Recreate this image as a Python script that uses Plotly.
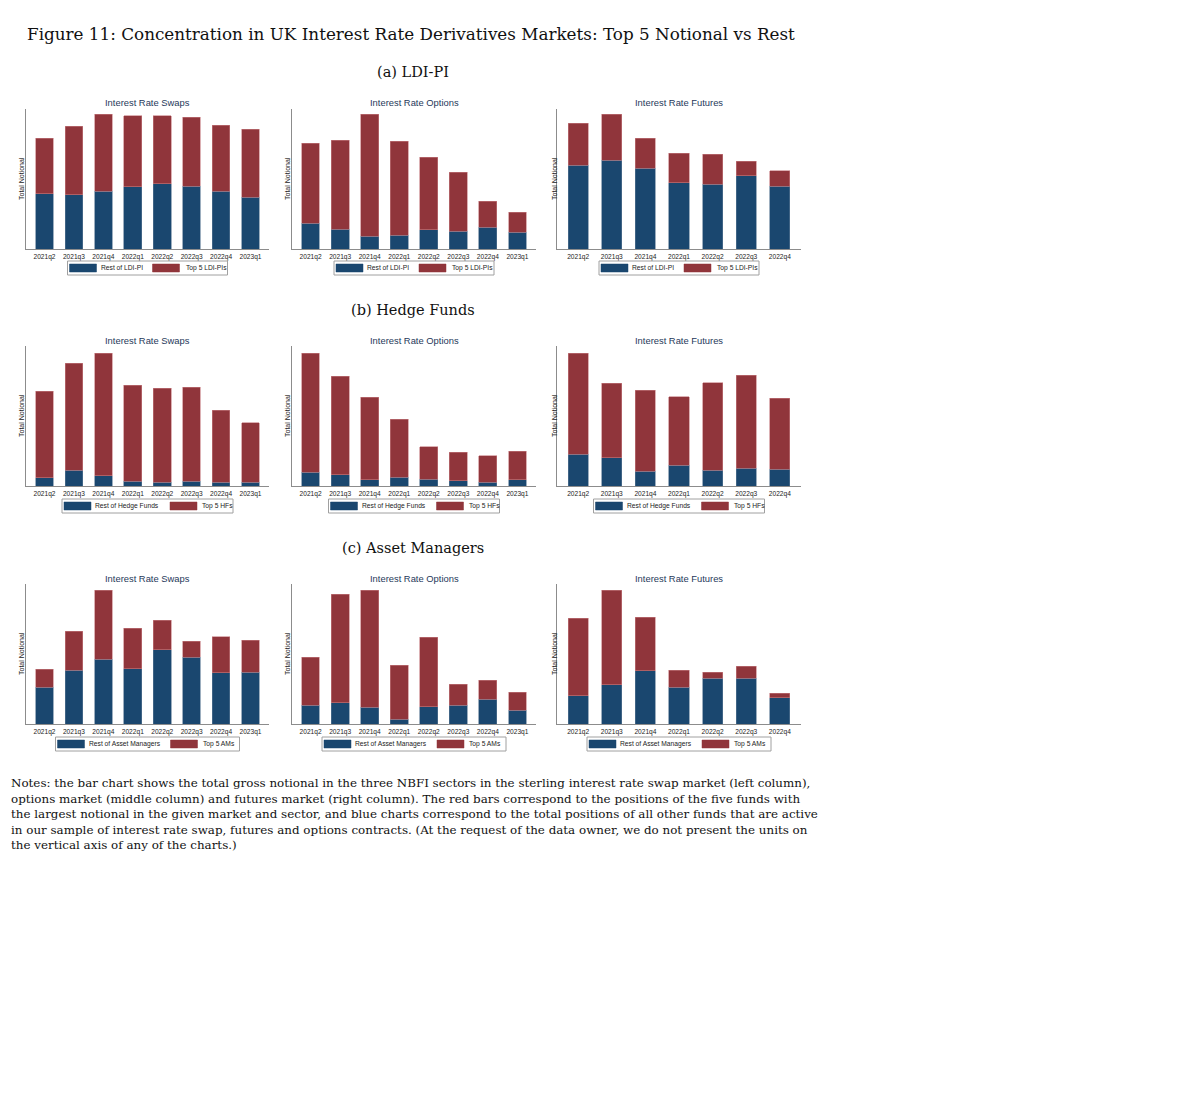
import plotly.graph_objects as go

# ---------------- data (arbitrary units) ----------------
QUARTERS_8 = ["2021q2", "2021q3", "2021q4", "2022q1", "2022q2", "2022q3", "2022q4", "2023q1"]
QUARTERS_7 = ["2021q2", "2021q3", "2021q4", "2022q1", "2022q2", "2022q3", "2022q4"]

ldi_swaps_rest = [166, 163, 174, 187, 196, 188, 173, 156]
ldi_swaps_top5 = [167, 205, 231, 213, 204, 207, 198, 204]
ldi_options_rest = [78, 60, 38, 41, 58, 53, 66, 51]
ldi_options_top5 = [240, 266, 366, 282, 218, 178, 77, 60]
ldi_futures_rest = [251, 266, 243, 199, 195, 220, 189]
ldi_futures_top5 = [127, 138, 90, 89, 90, 44, 46]

hf_swaps_rest = [25, 48, 31, 15, 12, 14, 11, 12]
hf_swaps_top5 = [259, 321, 368, 287, 281, 282, 216, 178]
hf_options_rest = [41, 34, 19, 27, 21, 16, 12, 19]
hf_options_top5 = [358, 295, 248, 174, 97, 85, 79, 85]
hf_futures_rest = [96, 85, 45, 62, 48, 53, 51]
hf_futures_top5 = [303, 224, 242, 206, 262, 279, 212]

am_swaps_rest = [110, 161, 195, 166, 223, 200, 154, 155]
am_swaps_top5 = [55, 118, 207, 122, 88, 49, 108, 97]
am_options_rest = [57, 64, 50, 14, 52, 57, 75, 41]
am_options_top5 = [144, 326, 352, 163, 209, 62, 57, 55]
am_futures_rest = [85, 118, 160, 111, 137, 138, 79]
am_futures_top5 = [233, 284, 160, 50, 18, 35, 13]

market_titles = ["Interest Rate Swaps", "Interest Rate Options", "Interest Rate Futures"]
sector_captions = ["(a) LDI-PI", "(b) Hedge Funds", "(c) Asset Managers"]
legend_labels = [
    ("Rest of LDI-PI", "Top 5 LDI-PIs"),
    ("Rest of Hedge Funds", "Top 5 HFs"),
    ("Rest of Asset Managers", "Top 5 AMs"),
]
y_title = "Total Notional"
fig_title = "Figure 11: Concentration in UK Interest Rate Derivatives Markets: Top 5 Notional vs Rest"
notes_lines = [
    "Notes: the bar chart shows the total gross notional in the three NBFI sectors in the sterling interest rate swap market (left column),",
    "options market (middle column) and futures market (right column). The red bars correspond to the positions of the five funds with",
    "the largest notional in the given market and sector, and blue charts correspond to the total positions of all other funds that are active",
    "in our sample of interest rate swap, futures and options contracts. (At the request of the data owner, we do not present the units on",
    "the vertical axis of any of the charts.)",
]

panels = [
    [(QUARTERS_8, ldi_swaps_rest, ldi_swaps_top5), (QUARTERS_8, ldi_options_rest, ldi_options_top5), (QUARTERS_7, ldi_futures_rest, ldi_futures_top5)],
    [(QUARTERS_8, hf_swaps_rest, hf_swaps_top5), (QUARTERS_8, hf_options_rest, hf_options_top5), (QUARTERS_7, hf_futures_rest, hf_futures_top5)],
    [(QUARTERS_8, am_swaps_rest, am_swaps_top5), (QUARTERS_8, am_options_rest, am_options_top5), (QUARTERS_7, am_futures_rest, am_futures_top5)],
]

# ---------------- layout helpers ----------------
W, H = 1184, 1084
OFF = 8  # default body margin of the page


def fx(px):
    return (px - OFF) / W


def fy(py):
    return 1 - (py - OFF) / H


NAVY = "#1a476f"
MAROON = "#90353b"
AXIS_GRAY = "#8c8c8c"
TITLE_COL = "#26385a"
SANS = "Liberation Sans, Arial, sans-serif"
SERIF = "DejaVu Serif, serif"

col_dom = [(26, 269), (292, 536), (557, 801)]
row_dom = [(109, 249), (346, 486), (584, 724)]
ytitle_x = [21, 287, 554]
sub_y = [102, 340, 578]
caption_y = [72, 310, 548]
legend_y = [268, 506, 744]
# (box width, text1 offset, swatch2 offset, text2 offset)
legend_geom = [(160, 31, 85, 116), (171, 31, 108, 138), (184, 31, 115, 145)]
Y_TOP = 420

fig = go.Figure()
annotations = []
shapes = []

k = 0
for r in range(3):
    for c in range(3):
        k += 1
        cats, rest, top5 = panels[r][c]
        xa = "x" if k == 1 else f"x{k}"
        ya = "y" if k == 1 else f"y{k}"
        fig.add_trace(go.Bar(x=cats, y=rest, xaxis=xa, yaxis=ya, name=legend_labels[r][0],
                             marker=dict(color=NAVY, line=dict(color="#5a7894", width=0.6)),
                             showlegend=False))
        fig.add_trace(go.Bar(x=cats, y=top5, xaxis=xa, yaxis=ya, name=legend_labels[r][1],
                             marker=dict(color=MAROON, line=dict(color="#c47c80", width=0.6)),
                             showlegend=False))
        n = len(cats)
        x0, x1 = col_dom[c]
        y0, y1 = row_dom[r]
        xkey = "xaxis" if k == 1 else f"xaxis{k}"
        ykey = "yaxis" if k == 1 else f"yaxis{k}"
        fig.update_layout(**{
            xkey: dict(domain=[fx(x0), fx(x1)], anchor=ya, type="category",
                       range=[-0.63, n - 1 + 0.63], showline=True, linecolor=AXIS_GRAY,
                       linewidth=1, ticks="", showgrid=False, zeroline=False,
                       tickfont=dict(family=SANS, size=6.6, color="#222222"),
                       ticklabelstandoff=1, fixedrange=True),
            ykey: dict(domain=[fy(y1), fy(y0)], anchor=xa, range=[0, Y_TOP],
                       showline=True, linecolor=AXIS_GRAY, linewidth=1, ticks="",
                       showticklabels=False, showgrid=False, zeroline=False, fixedrange=True),
        })
        cx = (x0 + x1) / 2
        # market subtitle
        annotations.append(dict(text=market_titles[c], x=fx(cx), y=fy(sub_y[r]), xref="paper", yref="paper",
                                xanchor="center", yanchor="middle", showarrow=False,
                                font=dict(family=SANS, size=9.4, color=TITLE_COL)))
        # y-axis title
        annotations.append(dict(text=y_title, x=fx(ytitle_x[c]), y=fy((y0 + y1) / 2), xref="paper", yref="paper",
                                xanchor="center", yanchor="middle", showarrow=False, textangle=-90,
                                font=dict(family=SANS, size=7, color="#222222")))
        # legend box
        bw, t1, s2, t2 = legend_geom[r]
        lx = cx - bw / 2
        ly = legend_y[r]
        shapes.append(dict(type="rect", xref="paper", yref="paper", x0=fx(lx), x1=fx(lx + bw),
                           y0=fy(ly + 7), y1=fy(ly - 7), line=dict(color="#a0a0a0", width=1),
                           fillcolor="white", layer="above"))
        for sx, col in ((lx + 2, NAVY), (lx + s2, MAROON)):
            shapes.append(dict(type="rect", xref="paper", yref="paper", x0=fx(sx), x1=fx(sx + 27),
                               y0=fy(ly + 4), y1=fy(ly - 4), line=dict(color=col, width=0.5),
                               fillcolor=col, layer="above"))
        for tx, lab in ((lx + t1, legend_labels[r][0]), (lx + t2, legend_labels[r][1])):
            annotations.append(dict(text=lab, x=fx(tx), y=fy(ly), xref="paper", yref="paper",
                                    xanchor="left", yanchor="middle", showarrow=False,
                                    font=dict(family=SANS, size=6.7, color="#222222")))

# figure title, captions, notes
annotations.append(dict(text=fig_title, x=fx(25), y=fy(34), xref="paper", yref="paper",
                        xanchor="left", yanchor="middle", showarrow=False,
                        font=dict(family=SERIF, size=16.8, color="#111111")))
for r in range(3):
    annotations.append(dict(text=sector_captions[r], x=fx(413), y=fy(caption_y[r]), xref="paper", yref="paper",
                            xanchor="center", yanchor="middle", showarrow=False,
                            font=dict(family=SERIF, size=14.5, color="#111111")))
note_y = [783, 798.5, 814, 829.5, 845]
for i, line in enumerate(notes_lines):
    annotations.append(dict(text=line, x=fx(9), y=fy(note_y[i]), xref="paper", yref="paper",
                            xanchor="left", yanchor="middle", showarrow=False,
                            font=dict(family=SERIF, size=11.9, color="#111111")))

fig.update_layout(
    width=W, height=H, margin=dict(l=0, r=0, t=0, b=0),
    paper_bgcolor="white", plot_bgcolor="white",
    barmode="stack", bargap=0.4,
    annotations=annotations, shapes=shapes, showlegend=False,
)

fig.write_html("out.html")
